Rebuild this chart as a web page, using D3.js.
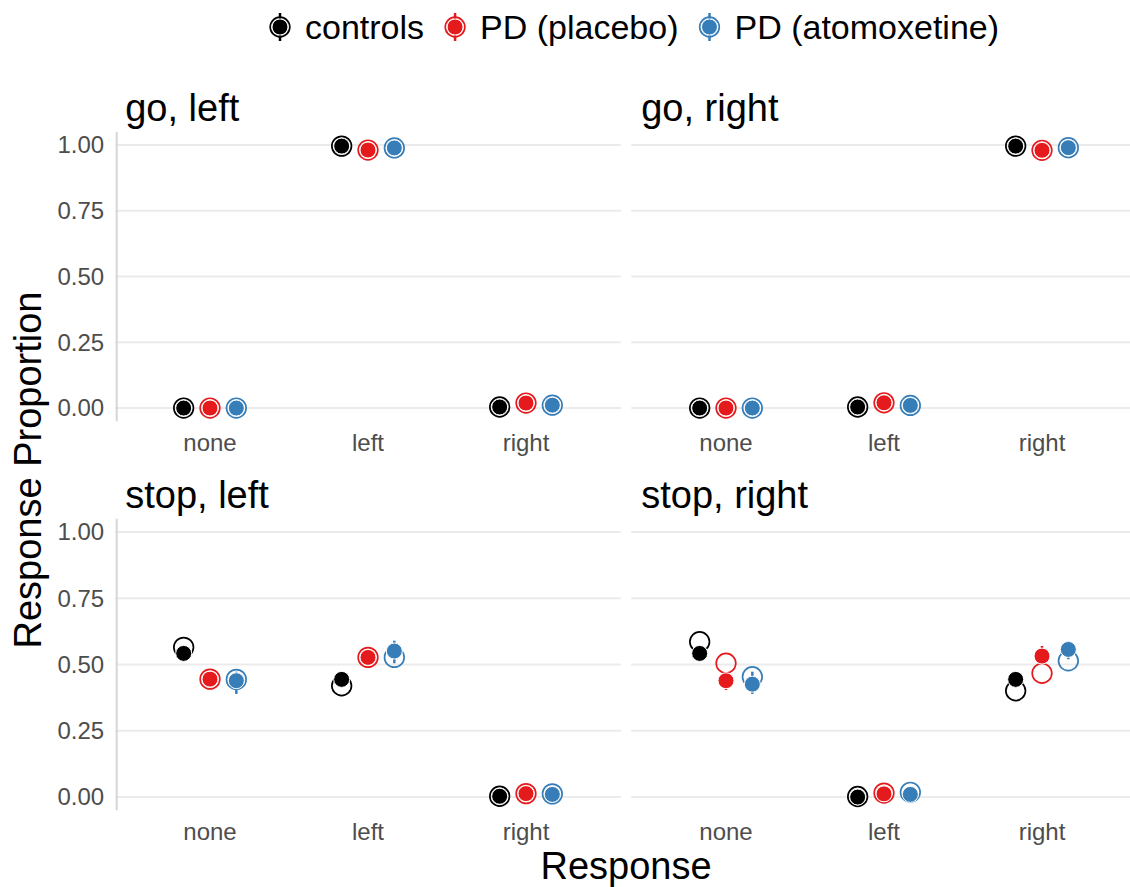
<!DOCTYPE html>
<html>
<head>
<meta charset="utf-8">
<script src="https://cdn.jsdelivr.net/npm/d3@7"></script>
<style>
  body { margin: 0; background: #fff; }
  text { font-family: "Liberation Sans", Arial, Helvetica, sans-serif; }
</style>
</head>
<body>
<script>
  // facets, categories and groups
  var panels = ['go, left', 'go, right', 'stop, left', 'stop, right'],
      responses = ['none', 'left', 'right'],
      groups = ['controls', 'PD (placebo)', 'PD (atomoxetine)'],
      colors = ['#000000', '#E41A1C', '#377EB8'],
      yTicks = [0, 0.25, 0.5, 0.75, 1];

  // observed means [panel][group][response]
  var obsMean = [
    [[0.000, 0.996, 0.004], [0.000, 0.981, 0.019], [0.000, 0.989, 0.011]],
    [[0.000, 0.004, 0.996], [0.000, 0.020, 0.980], [0.000, 0.010, 0.990]],
    [[0.542, 0.444, 0.003], [0.445, 0.527, 0.013], [0.439, 0.551, 0.010]],
    [[0.542, 0.000, 0.444], [0.439, 0.012, 0.532], [0.426, 0.010, 0.557]]
  ];
  var obsLow = [
    [[0.000, 0.992, 0.001], [0.000, 0.972, 0.012], [0.000, 0.982, 0.006]],
    [[0.000, 0.001, 0.992], [0.000, 0.013, 0.971], [0.000, 0.005, 0.983]],
    [[0.530, 0.431, 0.000], [0.432, 0.512, 0.005], [0.389, 0.505, 0.004]],
    [[0.530, 0.000, 0.431], [0.404, 0.005, 0.502], [0.389, 0.004, 0.520]]
  ];
  var obsHigh = [
    [[0.000, 0.999, 0.008], [0.000, 0.988, 0.028], [0.000, 0.994, 0.018]],
    [[0.000, 0.008, 0.999], [0.000, 0.029, 0.987], [0.000, 0.017, 0.995]],
    [[0.555, 0.457, 0.007], [0.458, 0.542, 0.021], [0.473, 0.590, 0.016]],
    [[0.555, 0.000, 0.457], [0.460, 0.019, 0.570], [0.473, 0.016, 0.589]]
  ];
  // model predictions (open circles)
  var predicted = [
    [[0.000, 0.996, 0.004], [0.000, 0.981, 0.019], [0.000, 0.989, 0.011]],
    [[0.000, 0.004, 0.996], [0.000, 0.020, 0.980], [0.000, 0.010, 0.990]],
    [[0.565, 0.420, 0.003], [0.445, 0.527, 0.013], [0.444, 0.527, 0.012]],
    [[0.586, 0.002, 0.401], [0.505, 0.015, 0.467], [0.454, 0.018, 0.514]]
  ];

  var W = 1130, H = 887,
      colX = [115.2, 631.2], panelW = 505.6,
      rowY = [131.9, 518.8], panelH = [289.3, 291.5];

  var svg = d3.select('body').append('svg')
    .attr('width', W).attr('height', H);

  panels.forEach(function (name, p) {
    var col = p % 2, row = Math.floor(p / 2),
        x0 = colX[col], y0 = rowY[row], h = panelH[row];

    var x = d3.scalePoint().domain(responses).range([x0, x0 + panelW]).padding(0.6),
        y = d3.scaleLinear().domain([-0.05, 1.05]).range([y0 + h, y0]),
        dodge = x.step() / 6;

    var g = svg.append('g').attr('class', 'panel');

    // grid
    g.selectAll('line.grid').data(yTicks).enter().append('line')
      .attr('x1', x0).attr('x2', x0 + panelW)
      .attr('y1', function (d) { return y(d); })
      .attr('y2', function (d) { return y(d); })
      .attr('stroke', '#ebebeb').attr('stroke-width', 2);

    // y axis only on left column
    if (col === 0) {
      g.append('line')
        .attr('x1', x0 + 1.5).attr('x2', x0 + 1.5)
        .attr('y1', y0).attr('y2', y0 + h)
        .attr('stroke', '#d6d6d6').attr('stroke-width', 2);
      g.selectAll('text.ytick').data(yTicks).enter().append('text')
        .attr('x', x0 - 11).attr('y', function (d) { return y(d); })
        .attr('dy', '0.35em').attr('text-anchor', 'end')
        .attr('font-size', 24).attr('fill', '#4d4d4d')
        .text(function (d) { return d3.format('.2f')(d); });
    }

    // x tick labels
    g.selectAll('text.xtick').data(responses).enter().append('text')
      .attr('x', function (d) { return x(d); })
      .attr('y', y0 + h + 30)
      .attr('text-anchor', 'middle')
      .attr('font-size', 24).attr('fill', '#4d4d4d')
      .text(function (d) { return d; });

    // facet title
    g.append('text')
      .attr('x', x0 + 10).attr('y', y0 - 11)
      .attr('font-size', 38).attr('fill', '#000')
      .text(name);

    // flatten data for this panel
    var rows = [];
    groups.forEach(function (gr, gi) {
      responses.forEach(function (r, ri) {
        rows.push({
          gi: gi,
          cx: x(r) + (gi - 1) * dodge,
          mean: obsMean[p][gi][ri],
          lo: obsLow[p][gi][ri],
          hi: obsHigh[p][gi][ri],
          pred: predicted[p][gi][ri]
        });
      });
    });

    // predictions: open circles
    g.selectAll('circle.pred').data(rows).enter().append('circle')
      .attr('cx', function (d) { return d.cx; })
      .attr('cy', function (d) { return y(d.pred); })
      .attr('r', 9.8)
      .attr('fill', 'none')
      .attr('stroke', function (d) { return colors[d.gi]; })
      .attr('stroke-width', 1.7);

    // observed: error bars
    g.selectAll('line.err').data(rows).enter().append('line')
      .attr('x1', function (d) { return d.cx; })
      .attr('x2', function (d) { return d.cx; })
      .attr('y1', function (d) { return y(d.lo); })
      .attr('y2', function (d) { return y(d.hi); })
      .attr('stroke', function (d) { return colors[d.gi]; })
      .attr('stroke-width', 2.5);

    // observed: filled points
    g.selectAll('circle.obs').data(rows).enter().append('circle')
      .attr('cx', function (d) { return d.cx; })
      .attr('cy', function (d) { return y(d.mean); })
      .attr('r', 8)
      .attr('fill', function (d) { return colors[d.gi]; })
      .attr('stroke', '#fff')
      .attr('stroke-width', 1);
  });

  // axis titles
  svg.append('text')
    .attr('x', 626).attr('y', 879)
    .attr('text-anchor', 'middle')
    .attr('font-size', 38).attr('fill', '#000')
    .text('Response');

  svg.append('text')
    .attr('transform', 'translate(41,470) rotate(-90)')
    .attr('text-anchor', 'middle')
    .attr('font-size', 38).attr('fill', '#000')
    .text('Response Proportion');

  // legend
  var legend = svg.append('g').attr('class', 'legend'),
      lx = 280, ly = 27;

  groups.forEach(function (gr, gi) {
    var item = legend.append('g').attr('transform', 'translate(' + lx + ',' + ly + ')');
    item.append('line')
      .attr('y1', -14).attr('y2', 14)
      .attr('stroke', colors[gi]).attr('stroke-width', 2.5);
    item.append('circle').attr('r', 9.8)
      .attr('fill', 'none').attr('stroke', colors[gi]).attr('stroke-width', 1.7);
    item.append('circle').attr('r', 8)
      .attr('fill', colors[gi]).attr('stroke', '#fff').attr('stroke-width', 1);
    var t = item.append('text')
      .attr('x', 25).attr('dy', '0.35em')
      .attr('font-size', 34).attr('fill', '#000')
      .text(gr);
    lx += 25 + t.node().getComputedTextLength() + 31;
  });
</script>
</body>
</html>
